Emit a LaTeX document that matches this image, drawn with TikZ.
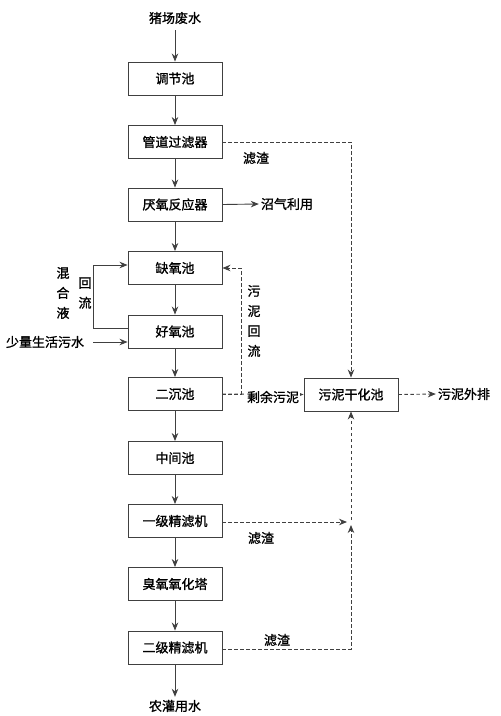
\documentclass[tikz,border=0pt]{standalone}
\usepackage{fontspec}
\setmainfont{Noto Sans CJK SC}[FakeBold=1.2]
\usetikzlibrary{arrows.meta,calc}
\tikzset{
  box/.style={draw=black!75, line width=0.9pt, minimum width=94pt, minimum height=33pt, inner sep=0pt, font=\fontsize{13}{15}\selectfont},
  lbl/.style={inner sep=1pt, font=\fontsize{13}{15}\selectfont},
  vlbl/.style={inner sep=1pt, align=center, font=\fontsize{13}{20}\selectfont},
  arr/.style={draw=black!75, line width=0.9pt, -{Stealth[length=8pt,width=6.5pt]}},
  darr/.style={arr, dash pattern=on 3.5pt off 2.5pt},
  dline/.style={draw=black!75, line width=0.9pt, dash pattern=on 3.5pt off 2.5pt}
}
\begin{document}
\begin{tikzpicture}[x=1pt,y=-1pt]
\useasboundingbox (0,0) rectangle (501,716);
% main column
\node[lbl] (in) at (175,18) {猪场废水};
\node[box] (b1) at (175,78.5) {调节池};
\node[box] (b2) at (175,142) {管道过滤器};
\node[box] (b3) at (175,204.5) {厌氧反应器};
\node[box] (b4) at (175,268) {缺氧池};
\node[box] (b5) at (175,331.5) {好氧池};
\node[box] (b6) at (175,394) {二沉池};
\node[box] (b7) at (175,458) {中间池};
\node[box] (b8) at (175,521) {一级精滤机};
\node[box] (b9) at (175,584) {臭氧氧化塔};
\node[box] (b10) at (175,647.5) {二级精滤机};
\node[lbl] (out) at (175,706) {农灌用水};
\node[box] (sd) at (351,394.5) {污泥干化池};
% side texts
\node[lbl] (gas) at (287,204) {沼气利用};
\node[lbl] (ext) at (464,394) {污泥外排};
\node[lbl] (dom) at (45,342) {少量生活污水};
\node[vlbl] (mix1) at (63,293) {混\\合\\液};
\node[vlbl] (mix2) at (85,293) {回\\流};
\node[vlbl] (ret) at (254,321) {污\\泥\\回\\流};
\node[lbl] (f1) at (256,158) {滤渣};
\node[lbl] (f2) at (261,538) {滤渣};
\node[lbl] (f3) at (277,640) {滤渣};
% coordinates
\coordinate (c1) at (351,142);
\coordinate (c2) at (241,394);
\coordinate (c3) at (93,328);
\coordinate (c4) at (347,522);
\coordinate (c5) at (351,649);
\coordinate (c6) at (351,525);
\coordinate (c7) at (351,520);
\coordinate (c8) at (93,342);
% main flow
\draw[arr] ([yshift=-5pt]in.south) -- (b1.north);
\draw[arr] (b1) -- (b2);
\draw[arr] (b2) -- (b3);
\draw[arr] (b3) -- (b4);
\draw[arr] (b4) -- (b5);
\draw[arr] (b5) -- (b6);
\draw[arr] (b6) -- (b7);
\draw[arr] (b7) -- (b8);
\draw[arr] (b8) -- (b9);
\draw[arr] (b9) -- (b10);
\draw[arr] (b10.south) -- ([yshift=2pt]out.north);
% side solid
\draw[arr] (b3.east) -- ([xshift=-1pt]gas.west);
\draw[arr] ([yshift=3.5pt]b5.west) -- (c3) |- ([yshift=3pt]b4.west);
\draw[arr] (c8) -- ([yshift=-10.5pt]b5.west);
% dashed
\draw[darr] (b2.east) -- (c1) -- (sd.north);
\draw[darr] (b6.east) -- (sd.west);
\draw[darr] (b6.east) -- (c2) |- (b4.east);
\draw[darr] (sd.east) -- ([xshift=-1pt]ext.west);
\draw[darr] ([yshift=-1pt]b8.east) -- (c4);
\draw[darr] ([yshift=-1.5pt]b10.east) -- (c5) -- (c6);
\draw[darr] (c7) -- (sd.south);
\node[lbl, fill=white] (rem) at (273,397) {剩余污泥};
\end{tikzpicture}
\end{document}
